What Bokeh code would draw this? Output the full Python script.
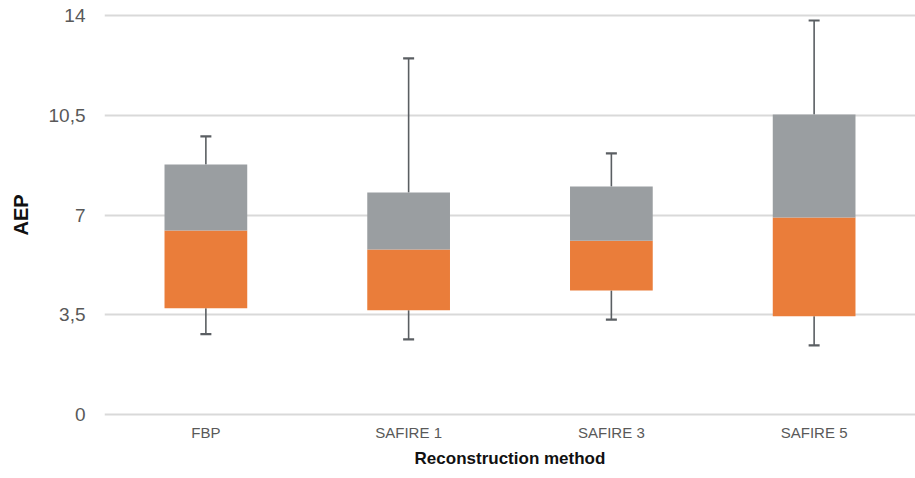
from bokeh.plotting import figure
from bokeh.models import FactorRange, Range1d, FixedTicker, CustomJSTickFormatter, ColumnDataSource
from bokeh.embed import file_html
from bokeh.resources import INLINE

# ---- data ----
categories = ["FBP", "SAFIRE 1", "SAFIRE 3", "SAFIRE 5"]
whisker_low = [2.82, 2.64, 3.33, 2.43]
q1 = [3.73, 3.66, 4.35, 3.45]
median = [6.46, 5.79, 6.10, 6.91]
q3 = [8.77, 7.79, 8.00, 10.52]
whisker_high = [9.76, 12.49, 9.16, 13.82]
y_ticks = [0, 3.5, 7, 10.5, 14]

ORANGE = "#ea7d3a"
GREY = "#9a9ea1"
WHISKER = "#5a5e62"
LABEL = "#595959"

src = ColumnDataSource(dict(cat=categories, lo=whisker_low, q1=q1, med=median,
                            q3=q3, hi=whisker_high))

p = figure(x_range=FactorRange(factors=categories), y_range=Range1d(-0.1, 14.1),
           frame_width=811, frame_height=405,
           min_border_left=104, min_border_right=0, min_border_top=12, min_border_bottom=57,
           output_backend="svg", toolbar_location=None)
p.outline_line_color = None
p.background_fill_color = "white"
p.border_fill_color = "white"

# grid
p.xgrid.grid_line_color = None
p.ygrid.grid_line_color = "#d9d9d9"
p.ygrid.grid_line_width = 2
p.yaxis.ticker = FixedTicker(ticks=y_ticks)
p.yaxis.formatter = CustomJSTickFormatter(code="return tick.toString().replace('.', ',');")

# whiskers
p.segment(x0="cat", y0="q3", x1="cat", y1="hi", source=src, line_color=WHISKER, line_width=1.6)
p.segment(x0="cat", y0="lo", x1="cat", y1="q1", source=src, line_color=WHISKER, line_width=1.6)
p.scatter(x="cat", y="hi", source=src, marker="dash", size=11, line_color=WHISKER, line_width=2.2)
p.scatter(x="cat", y="lo", source=src, marker="dash", size=11, line_color=WHISKER, line_width=2.2)

# boxes
p.vbar(x="cat", bottom="q1", top="med", width=0.408, source=src, fill_color=ORANGE, line_color=None)
p.vbar(x="cat", bottom="med", top="q3", width=0.408, source=src, fill_color=GREY, line_color=None)

# axes styling
for ax in (p.xaxis[0], p.yaxis[0]):
    ax.axis_line_color = None
    ax.major_tick_line_color = None
    ax.minor_tick_line_color = None
    ax.major_tick_out = 0
    ax.major_tick_in = 0
    ax.major_label_text_color = LABEL
    ax.axis_label_text_color = "#111111"
    ax.axis_label_text_font_style = "bold"

p.yaxis.axis_label = "AEP"
p.yaxis.axis_label_text_font = "Liberation Sans"
p.yaxis.axis_label_text_font_size = "20px"
p.yaxis.major_label_text_font = "Liberation Sans"
p.yaxis.major_label_text_font_size = "19px"
p.yaxis.major_label_standoff = 19
p.yaxis.axis_label_standoff = 14

p.xaxis.axis_label = "Reconstruction method"
p.xaxis.axis_label_text_font = "Liberation Sans"
p.xaxis.axis_label_text_font_size = "17px"
p.xaxis.major_label_text_font = "Liberation Sans"
p.xaxis.major_label_text_font_size = "15px"
p.xaxis.major_label_standoff = 6
p.xaxis.axis_label_standoff = 5

open("out.html", "w").write(file_html(p, INLINE))
